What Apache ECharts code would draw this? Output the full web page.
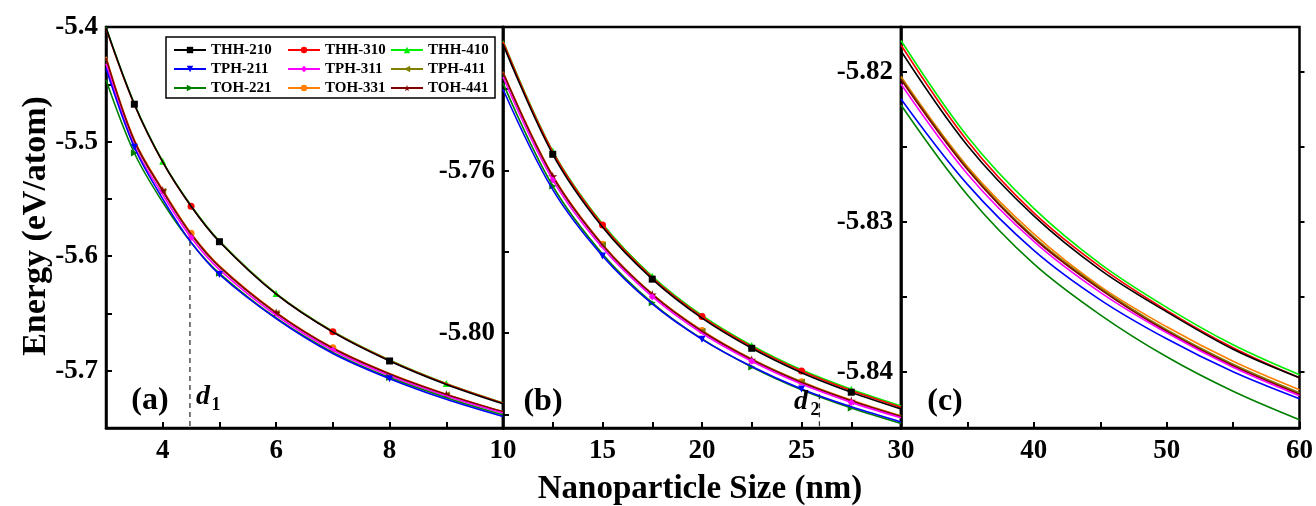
<!DOCTYPE html>
<html><head><meta charset="utf-8">
<script src="https://cdn.jsdelivr.net/npm/echarts@6/dist/echarts.min.js"></script>
<style>html,body{margin:0;padding:0;background:#fff}#c{width:1316px;height:506px}</style>
</head><body><div id="c"></div>
<script>
// ---- data ----
const sizes = [3,3.5,4,4.5,5,6,7,8,9,10,12.5,15,17.5,20,22.5,25,27.5,30,35,40,45,50,55,60];
const THH_210 = [-5.4005,-5.4674,-5.5178,-5.5564,-5.5874,-5.6332,-5.6663,-5.6915,-5.7120,-5.7289,-5.7560,-5.7739,-5.7867,-5.7963,-5.8037,-5.8097,-5.8145,-5.8186,-5.8249,-5.8296,-5.8332,-5.8360,-5.8385,-5.8404];
const THH_310 = [-5.4010,-5.4676,-5.5179,-5.5564,-5.5872,-5.6329,-5.6660,-5.6910,-5.7114,-5.7283,-5.7554,-5.7734,-5.7863,-5.7959,-5.8033,-5.8093,-5.8141,-5.8182,-5.8246,-5.8294,-5.8330,-5.8359,-5.8384,-5.8404];
const THH_410 = [-5.4000,-5.4668,-5.5172,-5.5558,-5.5867,-5.6325,-5.6656,-5.6907,-5.7112,-5.7281,-5.7552,-5.7731,-5.7860,-5.7956,-5.8030,-5.8090,-5.8138,-5.8179,-5.8243,-5.8291,-5.8328,-5.8357,-5.8382,-5.8402];
const TPH_211 = [-5.4360,-5.5050,-5.5500,-5.5880,-5.6160,-5.6545,-5.6850,-5.7070,-5.7250,-5.7400,-5.7647,-5.7810,-5.7928,-5.8015,-5.8082,-5.8137,-5.8181,-5.8218,-5.8275,-5.8319,-5.8352,-5.8378,-5.8400,-5.8418];
const TPH_311 = [-5.4320,-5.5035,-5.5463,-5.5837,-5.6117,-5.6516,-5.6821,-5.7043,-5.7220,-5.7370,-5.7623,-5.7790,-5.7910,-5.8000,-5.8069,-5.8125,-5.8170,-5.8208,-5.8268,-5.8313,-5.8347,-5.8374,-5.8397,-5.8416];
const TPH_411 = [-5.4280,-5.5002,-5.5434,-5.5812,-5.6095,-5.6498,-5.6806,-5.7030,-5.7209,-5.7360,-5.7615,-5.7783,-5.7904,-5.7995,-5.8064,-5.8120,-5.8166,-5.8204,-5.8264,-5.8310,-5.8344,-5.8372,-5.8395,-5.8414];
const TOH_221 = [-5.4460,-5.5100,-5.5530,-5.5880,-5.6150,-5.6540,-5.6840,-5.7060,-5.7235,-5.7385,-5.7638,-5.7805,-5.7925,-5.8014,-5.8083,-5.8139,-5.8184,-5.8222,-5.8282,-5.8328,-5.8362,-5.8390,-5.8413,-5.8432];
const TOH_331 = [-5.4260,-5.4985,-5.5420,-5.5800,-5.6085,-5.6490,-5.6800,-5.7025,-5.7205,-5.7357,-5.7612,-5.7781,-5.7903,-5.7993,-5.8063,-5.8119,-5.8164,-5.8203,-5.8263,-5.8308,-5.8343,-5.8370,-5.8393,-5.8412];
const TOH_441 = [-5.4270,-5.4994,-5.5428,-5.5807,-5.6091,-5.6495,-5.6804,-5.7028,-5.7207,-5.7359,-5.7614,-5.7783,-5.7905,-5.7995,-5.8065,-5.8121,-5.8166,-5.8205,-5.8265,-5.8311,-5.8345,-5.8373,-5.8396,-5.8415];

const names = ['THH-210','THH-310','THH-410','TPH-211','TPH-311','TPH-411','TOH-221','TOH-331','TOH-441'];
const values = [THH_210, THH_310, THH_410, TPH_211, TPH_311, TPH_411, TOH_221, TOH_331, TOH_441];
// d1 / d2 guide positions [size, energy at curve]
const d1Guide = [4.48, -5.5868];
const d2Guide = [25.9, -5.8150];

// axis ranges / ticks
const xRanges = [[3,10,1],[10,30,2.5],[30,60,5]];
const yRangeA = [-5.75, -5.40, 0.05];
const yRangeB = [-5.8233, -5.7247];
const yTicksB = [-5.82,-5.80,-5.78,-5.76,-5.74];
const yLabelsB = [-5.80,-5.76];
const yRangeC = [-5.84375, -5.8170];
const yTicksC = [-5.84,-5.835,-5.83,-5.825,-5.82];
const yLabelsC = [-5.84,-5.83,-5.82];

// ---- styling ----
const colors = ['#000000','#ff0000','#00ee00','#0000ff','#ff00ff','#808000','#008000','#ff8000','#800000'];
const STAR = 'path://M50,0 L61,35 L98,35 L68,57 L79,91 L50,70 L21,91 L32,57 L2,35 L39,35 Z';
const symbols = ['rect','circle','triangle','triangle','diamond','triangle','triangle','circle',STAR];
const rotates = [0,0,0,180,0,90,-90,0,0];
const drawOrder = [2,1,0,7,5,8,4,6,3];
const FONT = '"Liberation Serif","Times New Roman",serif';

const chart = echarts.init(document.getElementById('c'), null, {renderer:'canvas'});

const gridDefs = [
  {left:106, top:27, width:397, height:401},
  {left:503, top:27, width:398, height:401},
  {left:901, top:27, width:399, height:401}
];
const grid = gridDefs.map(g => Object.assign({show:true, borderColor:'#000', borderWidth:2.5, backgroundColor:'transparent', containLabel:false}, g));

const tickLabel = {color:'#000', fontFamily:FONT, fontWeight:'bold', fontSize:27};
const axisLine = {show:true, onZero:false, lineStyle:{color:'#000', width:2.5}};
const tick = {show:true, inside:true, length:6, lineStyle:{color:'#000', width:2}};

const xFormatters = [
  v => (Math.round(v) % 2 === 0 ? String(Math.round(v)) : ''),
  v => (Math.abs(v/5 - Math.round(v/5)) < 1e-6 && v > 10.5 ? String(Math.round(v)) : ''),
  v => (Math.abs(v/10 - Math.round(v/10)) < 1e-6 && v > 30.5 ? String(Math.round(v)) : '')
];
const xAxis = xRanges.map((r, i) => ({
  gridIndex:i, type:'value', min:r[0], max:r[1], interval:r[2],
  axisLine, axisTick:tick, splitLine:{show:false},
  axisLabel:Object.assign({margin:10, showMinLabel:true, showMaxLabel:true, formatter:xFormatters[i]}, tickLabel)
}));

const yAxis = [
  {gridIndex:0, type:'value', min:yRangeA[0], max:yRangeA[1], interval:yRangeA[2],
   axisLine, axisTick:tick, splitLine:{show:false},
   axisLabel:Object.assign({margin:8, showMinLabel:true, showMaxLabel:true,
     formatter:v => (Math.abs(v*10 - Math.round(v*10)) < 1e-6 ? v.toFixed(1) : '')}, tickLabel)},
  {gridIndex:1, type:'value', min:yRangeB[0], max:yRangeB[1],
   axisLine, axisTick:Object.assign({customValues:yTicksB}, tick), splitLine:{show:false},
   axisLabel:Object.assign({margin:8, customValues:yLabelsB, formatter:v => v.toFixed(2)}, tickLabel)},
  {gridIndex:2, type:'value', min:yRangeC[0], max:yRangeC[1],
   axisLine, axisTick:Object.assign({customValues:yTicksC}, tick), splitLine:{show:false},
   axisLabel:Object.assign({margin:8, customValues:yLabelsC, formatter:v => v.toFixed(2)}, tickLabel)},
  {gridIndex:2, type:'value', position:'right', min:yRangeC[0], max:yRangeC[1],
   axisLine:{show:false}, axisTick:{show:true, inside:false, length:5, customValues:yTicksC, lineStyle:{color:'#000', width:2}},
   axisLabel:{show:false}, splitLine:{show:false}}
];

const markEvery = [3, 2, 0];
const series = [];
for (let p = 0; p < 3; p++) {
  const [xmin, xmax] = xRanges[p];
  drawOrder.forEach((s, k) => {
    const data = [];
    let n = 0;
    sizes.forEach((x, i) => {
      if (x < xmin - 1e-9 || x > xmax + 1e-9) return;
      const showMark = markEvery[p] > 0 && x > xmin && x < xmax && ((n + s) % markEvery[p] === 1);
      n++;
      data.push(showMark ? {value:[x, values[s][i]]} : {value:[x, values[s][i]], symbol:'none'});
    });
    series.push({
      name:names[s], type:'line', xAxisIndex:p, yAxisIndex:p, data,
      smooth:0.35, clip:true,
      symbol:symbols[s], symbolRotate:rotates[s], symbolSize:s===8?9:7, showSymbol:true, showAllSymbol:true,
      lineStyle:{color:colors[s], width:1.6}, itemStyle:{color:colors[s]},
      emphasis:{disabled:true}, z:2+k*0.01, silent:true
    });
  });
}
series.push({name:'d1', type:'line', xAxisIndex:0, yAxisIndex:0,
  data:[[d1Guide[0], d1Guide[1]],[d1Guide[0], yRangeA[0]]], symbol:'none',
  lineStyle:{color:'#333', width:1.3, type:[5,4]}, silent:true, z:1});
series.push({name:'d2', type:'line', xAxisIndex:1, yAxisIndex:1,
  data:[[d2Guide[0], d2Guide[1]],[d2Guide[0], yRangeB[0]]], symbol:'none',
  lineStyle:{color:'#333', width:1.3, type:[5,4]}, silent:true, z:1});

const legendBase = {orient:'vertical', top:42, itemWidth:32, itemHeight:8, itemGap:3, padding:0,
  selectedMode:false, z:10,
  textStyle:{fontFamily:FONT, fontWeight:'bold', fontSize:15, color:'#000', lineHeight:16, padding:[0,0,0,0]}};
const legend = [
  Object.assign({left:173, data:['THH-210','TPH-211','TOH-221']}, legendBase),
  Object.assign({left:287, data:['THH-310','TPH-311','TOH-331']}, legendBase),
  Object.assign({left:390, data:['THH-410','TPH-411','TOH-441']}, legendBase)
];

const txt = (text, x, y, font, extra) => Object.assign({type:'text', x, y, z:20,
  style:{text, font, fill:'#000', textAlign:'center', textVerticalAlign:'middle'}}, extra || {});

const option = {
  animation:false, backgroundColor:'#fff',
  grid, xAxis, yAxis, series, legend,
  graphic:[
    {type:'rect', z:5, shape:{x:166, y:37, width:329, height:61}, style:{fill:'#fff', stroke:'#000', lineWidth:1.5}},
    txt('Energy (eV/atom)', 36, 226, 'bold 34px ' + FONT, {rotation:Math.PI/2}),
    txt('Nanoparticle Size (nm)', 700, 489, 'bold 33px ' + FONT),
    txt('(a)', 150, 401, 'bold 32px ' + FONT),
    txt('(b)', 543, 402, 'bold 32px ' + FONT),
    txt('(c)', 945, 402, 'bold 32px ' + FONT),
    txt('d', 203, 397, 'italic bold 28px ' + FONT),
    txt('1', 216, 405, 'bold 18px ' + FONT),
    txt('d', 801, 402, 'italic bold 28px ' + FONT),
    txt('2', 815, 410, 'bold 18px ' + FONT)
  ]
};
chart.setOption(option);
</script>
</body></html>
